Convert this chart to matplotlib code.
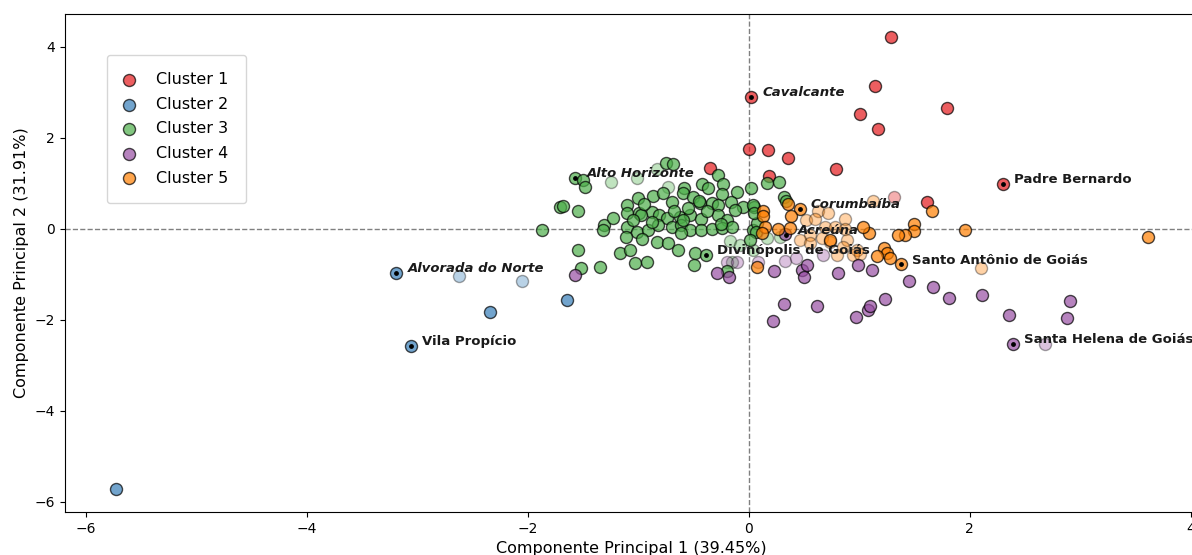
import matplotlib.pyplot as plt

# PCA scores, one set of arrays per cluster
# (faded = 1 marks the paler points)
c1_pc1 = [1.29, 1.14, 0.02, 1.01, 1.79, 1.17, 0.00, 0.17, 0.35, 0.79, -0.35, 0.18, 1.31, 1.61, 2.30]
c1_pc2 = [4.22, 3.14, 2.90, 2.51, 2.65, 2.20, 1.76, 1.73, 1.56, 1.31, 1.33, 1.15, 0.70, 0.59, 0.99]
c1_faded = [0, 0, 0, 0, 0, 0, 0, 0, 0, 0, 0, 0, 1, 0, 0]

c2_pc1 = [-5.73, -3.19, -2.62, -2.05, -2.34, -1.65, -3.06]
c2_pc2 = [-5.71, -0.97, -1.03, -1.14, -1.82, -1.56, -2.57]
c2_faded = [0, 0, 1, 1, 0, 0, 0]

c3_pc1 = [-1.57, -1.50, -1.48, -1.25, -1.01, -0.83, -0.75, -0.69, -0.73, -0.59,
          -0.42, -0.37, -0.28, -0.23, -0.24, -0.11, 0.02, 0.16, 0.27, 0.32,
          0.34, -1.71, -1.68, -1.55, -1.87, -1.31, -1.23, -1.10, -1.00, -0.87,
          -0.78, -0.70, -0.60, -0.51, -0.44, -0.33, -0.28, -0.16, -0.05, 0.05,
          0.04, -1.10, -0.99, -0.88, -0.81, -0.74, -0.62, -0.53, -0.43, -0.28,
          -0.20, -0.13, -1.32, -1.10, -1.01, -0.91, -0.82, -0.70, -0.61, -0.53,
          -0.43, -0.33, -0.24, -0.15, 0.04, 0.07, 0.06, -1.11, -0.97, -0.83,
          -0.73, -0.61, -0.64, -1.17, -1.08, -1.03, -0.92, -1.35, -1.55, -1.52,
          -0.49, -0.50, -0.39, -0.20, -0.17, -0.08, 0.01, 0.04, 0.16, 0.28,
          -0.15, -0.98, -0.60, -0.45, -0.95, -0.68, -0.38, -1.05, -0.88, -0.55,
          -0.25, 0.05]
c3_pc2 = [1.12, 1.08, 0.92, 1.03, 1.12, 1.32, 1.45, 1.43, 0.92, 0.90,
          0.99, 0.90, 1.19, 0.99, 0.77, 0.81, 0.90, 1.01, 1.03, 0.70,
          0.62, 0.48, 0.51, 0.40, -0.02, 0.09, 0.24, 0.53, 0.68, 0.73,
          0.79, 0.59, 0.79, 0.70, 0.57, 0.57, 0.53, 0.59, 0.48, 0.48,
          0.53, 0.35, 0.35, 0.37, 0.31, 0.24, 0.26, 0.31, 0.22, 0.31,
          0.20, 0.42, -0.02, 0.04, -0.07, -0.02, 0.09, 0.04, 0.09, -0.02,
          -0.02, 0.00, 0.02, 0.04, -0.02, 0.13, -0.06, -0.18, -0.22, -0.29,
          -0.31, -0.09, -0.46, -0.53, -0.46, -0.75, -0.73, -0.84, -0.46, -0.86,
          -0.53, -0.79, -0.57, -0.92, -0.26, -0.35, -0.24, -0.46, -0.20, -0.18,
          -0.73, 0.30, 0.20, 0.62, 0.55, 0.38, 0.40, 0.20, 0.15, 0.45,
          0.10, 0.35]
c3_faded = [0, 0, 0, 1, 1, 1, 0, 0, 1, 0,
            0, 0, 0, 0, 0, 0, 0, 0, 0, 0,
            0, 0, 0, 0, 0, 0, 0, 0, 0, 0,
            0, 0, 0, 0, 0, 0, 0, 0, 0, 0,
            0, 0, 0, 0, 0, 0, 0, 0, 0, 0,
            0, 0, 0, 0, 0, 0, 0, 0, 0, 0,
            0, 0, 0, 0, 0, 0, 0, 0, 0, 0,
            0, 0, 0, 0, 0, 0, 0, 0, 0, 0,
            0, 0, 0, 0, 1, 1, 0, 1, 1, 1,
            1, 0, 0, 0, 0, 0, 0, 0, 0, 0,
            0, 0]

c4_pc1 = [-1.57, -0.29, -0.18, 0.23, 0.32, 0.22, 0.48, 0.50, 0.53, 0.81,
          0.99, 1.11, 1.45, 1.67, 0.62, 0.97, 1.08, 1.10, 1.23, 1.81,
          2.11, 2.35, 2.91, 2.88, 2.39, 0.33, -0.20, -0.11, 0.08, 0.33,
          0.43, 0.67, 2.68]
c4_pc2 = [-1.01, -0.97, -1.05, -0.92, -1.65, -2.02, -0.90, -1.05, -0.79, -0.97,
          -0.79, -0.90, -1.14, -1.28, -1.69, -1.93, -1.78, -1.69, -1.54, -1.52,
          -1.45, -1.89, -1.58, -1.96, -2.53, -0.12, -0.73, -0.73, -0.73, -0.70,
          -0.64, -0.57, -2.53]
c4_faded = [0] * 26 + [1] * 7

c5_pc1 = [3.61, 1.96, 1.66, 1.49, 1.49, 1.41, 1.35, 1.22, 1.25, 1.28,
          1.16, 1.38, 1.09, 1.03, 0.35, 0.46, 0.13, 0.13, 0.38, 0.15,
          0.26, 0.37, 0.12, 0.07, 0.73, 2.10, 1.12, 0.63, 0.72, 0.87,
          0.52, 0.60, 0.69, 0.78, 0.87, 0.55, 0.66, 0.46, 0.55, 0.73,
          0.89, 0.98, 0.80, 0.94, 0.85, 1.01]
c5_pc2 = [-0.18, -0.02, 0.38, 0.10, -0.05, -0.14, -0.14, -0.42, -0.53, -0.64,
          -0.60, -0.78, -0.09, 0.03, 0.55, 0.44, 0.39, 0.28, 0.27, 0.03,
          -0.01, 0.01, -0.09, -0.83, -0.24, -0.86, 0.62, 0.40, 0.34, 0.21,
          0.20, 0.22, 0.04, 0.04, -0.01, -0.13, -0.20, -0.24, -0.31, -0.29,
          -0.24, -0.46, -0.57, -0.57, -0.40, -0.55]
c5_faded = [0] * 25 + [1] * 21

cluster_names = ["Cluster 1", "Cluster 2", "Cluster 3", "Cluster 4", "Cluster 5"]

# highlighted municipalities
label_names = ["Cavalcante", "Padre Bernardo", "Alto Horizonte", "Corumbaíba",
               "Acreúna", "Divinópolis de Goiás", "Santo Antônio de Goiás",
               "Alvorada do Norte", "Vila Propício", "Santa Helena de Goiás"]
label_pc1 = [0.02, 2.30, -1.57, 0.46, 0.34, -0.39, 1.38, -3.19, -3.06, 2.39]
label_pc2 = [2.90, 0.99, 1.12, 0.44, -0.13, -0.57, -0.78, -0.97, -2.57, -2.53]
label_italic = [True, False, True, True, True, False, False, True, False, False]

colors = ["#e41a1c", "#377eb8", "#4daf4a", "#984ea3", "#ff7f00"]

fig = plt.figure(figsize=(11.92, 5.55), dpi=100)
ax = fig.add_axes([0.0545, 0.0775, 0.951, 0.8975])

ax.axhline(0, color="gray", linestyle="--", linewidth=1, zorder=0)
ax.axvline(0, color="gray", linestyle="--", linewidth=1, zorder=0)

clusters = [
    (c1_pc1, c1_pc2, c1_faded),
    (c2_pc1, c2_pc2, c2_faded),
    (c3_pc1, c3_pc2, c3_faded),
    (c4_pc1, c4_pc2, c4_faded),
    (c5_pc1, c5_pc2, c5_faded),
]

for (xs, ys, fd), name, col in zip(clusters, cluster_names, colors):
    xn = [x for x, f in zip(xs, fd) if not f]
    yn = [y for y, f in zip(ys, fd) if not f]
    xf = [x for x, f in zip(xs, fd) if f]
    yf = [y for y, f in zip(ys, fd) if f]
    ax.scatter(xf, yf, s=75, color=col, alpha=0.35, edgecolor="black", linewidth=1, zorder=2)
    ax.scatter(xn, yn, s=75, color=col, alpha=0.7, edgecolor="black", linewidth=1, zorder=3,
               label=name)

ax.scatter(label_pc1, label_pc2, s=6, color="black", zorder=4)
for name, x, y, it in zip(label_names, label_pc1, label_pc2, label_italic):
    ax.annotate(name, (x, y), xytext=(8, 3), textcoords="offset points",
                fontsize=9.5, fontweight="bold", style="italic" if it else "normal",
                color="#1a1a1a", va="center", ha="left", zorder=5)

ax.set_xlabel("Componente Principal 1 (39.45%)", fontsize=11.5)
ax.set_ylabel("Componente Principal 2 (31.91%)", fontsize=11.5)
ax.set_xlim(-6.19, 4.07)
ax.set_ylim(-6.22, 4.72)

ax.legend(loc="upper left", bbox_to_anchor=(0.037, 0.918), borderaxespad=0,
          fontsize=11.5, borderpad=1.1, labelspacing=0.6, handlelength=0.6,
          handletextpad=1.4, frameon=True)

fig.savefig("out.png", dpi=100)
